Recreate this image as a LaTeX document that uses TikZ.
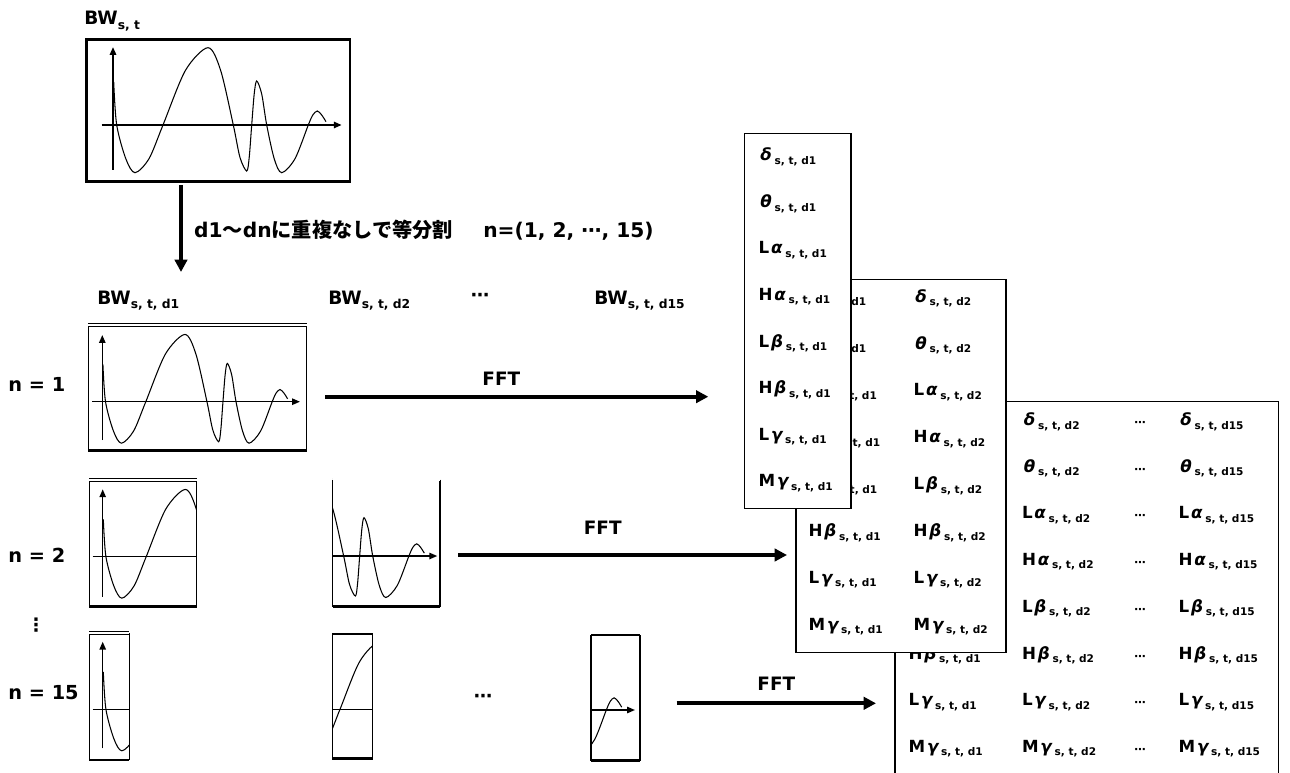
\documentclass[tikz,border=0pt]{standalone}
\usepackage{fontspec}
\setmainfont{DejaVu Sans}
\newfontfamily\jpfont{Noto Sans CJK JP}
\usetikzlibrary{arrows.meta}

% 添字・帯域ラベル
\newcommand{\lblsub}[1]{\raisebox{-2.4pt}{\fontsize{7}{8}\selectfont #1}}
\newcommand{\bandsub}[1]{\raisebox{-2pt}{\fontsize{6}{7}\selectfont #1}}
\newcommand{\bandlbl}[3]{#1\kern1pt{\itshape #2}\,\bandsub{s, t, #3}}

% 脳波の波形（上の枠の座標で）
\newcommand{\wavecurve}{%
  \draw[wave] plot[smooth] coordinates {(0.7,43) (3.7,0) (12.8,-33.7) (22,-47.7)
    (36,-33.7) (50,0) (72.5,54.7) (95,77.3) (107.6,54.7) (120.3,0) (127,-32.5)
    (133.7,-46) (136.2,-32.5) (138.7,0) (141.2,31) (143.7,44) (148.7,31) (153.7,0)
    (161.2,-33.7) (168.7,-47.7) (182,-33.7) (195.3,0) (199.8,10) (204.3,14)
    (208.7,10) (213,3.3)};}

% 分割した枠: 左x, 上y, 右x, 下y, 原点x, 原点y, 上辺の線
\newcommand{\segbox}[7]{%
  \begin{scope}
    \clip (#1,#2) rectangle (#3,#4);
    \begin{scope}[shift={(#5,#6)}, xscale=0.87, yscale=-0.87]
      \wavecurve
    \end{scope}
  \end{scope}
  \draw[segside] (#1,#2) -- (#1,#4) (#3,#2) -- (#3,#4);
  \draw[#7] (#1,#2) -- (#3,#2);
  \draw[segrim] (#1,#4) -- (#3,#4);}

\begin{document}
\begin{tikzpicture}[x=0.02cm, y=-0.02cm, >={Triangle[length=4.5pt,width=3.6pt]},
  every node/.style={font=\bfseries},
  wave/.style={line width=0.6pt},
  waveaxis/.style={line width=1.1pt},
  segaxis/.style={line width=0.9pt},
  waveframe/.style={line width=1.4pt},
  segside/.style={line width=0.6pt},
  segtop/.style={line width=0.45pt, double, double distance=1.3pt},
  segrim/.style={line width=1.5pt},
  bigarrow/.style={line width=2.3pt, -{Triangle[length=7pt,width=7pt]}},
  tablebox/.style={draw, line width=0.9pt, fill=white},
  bandtext/.style={anchor=west, inner sep=0pt, font=\bfseries\fontsize{9.5}{10}\selectfont},
  lbl/.style={font=\bfseries\fontsize{10.5}{12}\selectfont},
  rowlbl/.style={font=\bfseries\fontsize{11}{12}\selectfont, anchor=west, inner sep=0pt}]

  \useasboundingbox (0,0) rectangle (1290,773);
  \clip (0,0) rectangle (1290,773);

  % 1. 元の波形 BW_{s,t}
  \node[lbl, anchor=base west, inner sep=0pt] (bwtop) at (84,25) {BW\lblsub{s, t}};
  \draw[waveframe] (86.7,39.3) rectangle (350,181.7);
  \begin{scope}[shift={(113,125)}, yscale=-1]
    \wavecurve
  \end{scope}
  \draw[waveaxis, ->] (113,170) -- (113,47);
  \draw[waveaxis, ->] (101.7,125) -- (341.7,125);

  % 2. 等分割の矢印
  \coordinate (divtop) at (181,185);
  \coordinate (divbot) at (181,272);
  \draw[bigarrow] (divtop) -- (divbot);
  \node[anchor=west, font=\bfseries\fontsize{11.5}{12}\selectfont] (divlbl) at (188,230)
    {d1{\jpfont 〜}dn{\jpfont に重複なしで等分割}\hspace{1.5em}n=(1, 2, ⋯, 15)};

  % 3. 分割後のラベル
  \node[lbl, anchor=base west, inner sep=0pt] (bwd1) at (97,304) {BW\lblsub{s, t, d1}};
  \node[lbl, anchor=base west, inner sep=0pt] (bwd2) at (328,304) {BW\lblsub{s, t, d2}};
  \node[lbl] (bwdots) at (480,297) {⋯};
  \node[lbl, anchor=base west, inner sep=0pt] (bwd15) at (594,304) {BW\lblsub{s, t, d15}};

  \node[rowlbl] (n1) at (8,384) {n = 1};
  \node[rowlbl] (n2) at (8,555) {n = 2};
  \node[lbl] (nvdots) at (36,625) {⋮};
  \node[rowlbl] (n15) at (8,693) {n = 15};

  % 4. n = 1
  \segbox{88.3}{325}{306.7}{450.5}{102.3}{401.7}{segtop}
  \draw[segaxis, ->] (102.3,440) -- (102.3,335);
  \draw[segaxis, ->] (92.3,401.7) -- (300,401.7);

  % 5. n = 2
  \segbox{89.3}{480}{196.7}{606.5}{102.7}{556.7}{segtop}
  \draw[segaxis, ->] (102.7,596.7) -- (102.7,489.3);
  \draw[segaxis] (92.7,556.7) -- (196.7,556.7);
  \segbox{332.7}{479.5}{440}{606.5}{239}{556}{segtop}
  \draw[segaxis, ->] (332.7,556) -- (437.3,556);

  % 6. n = 15
  \segbox{89.3}{633}{129.3}{760}{102.7}{709.3}{segtop}
  \draw[segaxis, ->] (102.7,748.3) -- (102.7,641.7);
  \draw[segaxis] (92.7,709.3) -- (129.3,709.3);
  \segbox{332.3}{634}{372.7}{758.5}{296.5}{709.3}{segrim}
  \draw[segaxis] (332.3,709.3) -- (372.7,709.3);
  \node[lbl] (n15dots) at (483,698) {⋯};
  \segbox{591}{635}{640}{760.5}{436.4}{710}{segrim}
  \draw[segaxis, ->] (591,710) -- (635,710);

  % 7. FFT
  \coordinate (fft1s) at (325,396.7);  \coordinate (fft1e) at (708.3,396.7);
  \coordinate (fft2s) at (458,555);    \coordinate (fft2e) at (787,555);
  \coordinate (fft3s) at (676.7,703.3); \coordinate (fft3e) at (876,703.3);
  \draw[bigarrow] (fft1s) -- (fft1e) node[lbl, above=2pt, pos=0.46] (fft1) {FFT};
  \draw[bigarrow] (fft2s) -- (fft2e) node[lbl, above=7pt, pos=0.44] (fft2) {FFT};
  \draw[bigarrow] (fft3s) -- (fft3e) node[lbl, above=3pt, pos=0.5] (fft3) {FFT};

  % 8. 特徴量の表（奥から順に）
  \draw[tablebox] (895,401.7) rectangle (1278.3,800);
  \foreach \pre/\gr [count=\i from 0] in {/δ,/θ,L/α,H/α,L/β,H/β,L/γ,M/γ} {
    \node[bandtext] (c1r\i) at (908.3,421.7+46.7*\i) {\bandlbl{\pre}{\gr}{d1}};
    \node[bandtext] (c2r\i) at (1021.7,421.7+46.7*\i) {\bandlbl{\pre}{\gr}{d2}};
    \node[font=\bfseries\fontsize{6.5}{7}\selectfont, inner sep=0pt] (cdr\i) at (1140,424+46.7*\i) {⋯};
    \node[bandtext] (c15r\i) at (1178.3,421.7+46.7*\i) {\bandlbl{\pre}{\gr}{d15}};
  }

  \draw[tablebox] (796,279.3) rectangle (1006,652.7);
  \foreach \pre/\gr [count=\i from 0] in {/δ,/θ,L/α,H/α,L/β,H/β,L/γ,M/γ} {
    \node[bandtext] (b1r\i) at (808.3,298.3+46.9*\i) {\bandlbl{\pre}{\gr}{d1}};
    \node[bandtext] (b2r\i) at (913.3,298.3+46.9*\i) {\bandlbl{\pre}{\gr}{d2}};
  }

  \draw[tablebox] (744.3,133.3) rectangle (850.7,508.3);
  \foreach \pre/\gr [count=\i from 0] in {/δ,/θ,L/α,H/α,L/β,H/β,L/γ,M/γ} {
    \node[bandtext] (a1r\i) at (758.3,157+46.6*\i) {\bandlbl{\pre}{\gr}{d1}};
  }

\end{tikzpicture}
\end{document}
